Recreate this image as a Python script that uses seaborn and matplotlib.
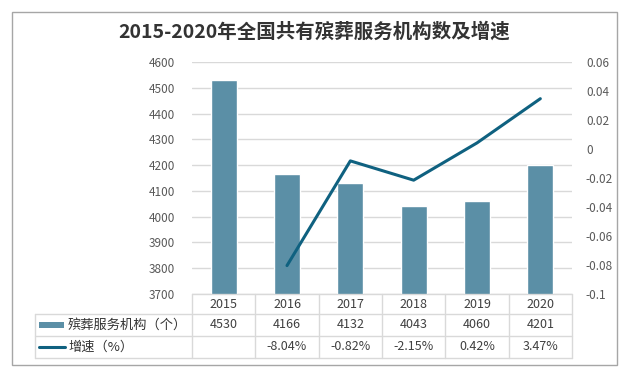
import numpy as np
import pandas as pd
import matplotlib
matplotlib.use("Agg")
import matplotlib.pyplot as plt
import seaborn as sns
from matplotlib.lines import Line2D
from matplotlib.patches import Rectangle

# dados
years = ["2015", "2016", "2017", "2018", "2019", "2020"]
counts = [4530, 4166, 4132, 4043, 4060, 4201]
growth = [np.nan, -0.0804, -0.0082, -0.0215, 0.0042, 0.0347]
growth_labels = ["", "-8.04%", "-0.82%", "-2.15%", "0.42%", "3.47%"]
bar_name = "殡葬服务机构（个）"
line_name = "增速（%）"
title = "2015-2020年全国共有殡葬服务机构数及增速"

bar_color = "#5B8FA6"
line_color = "#0F6180"
grid_color = "#D9D9D9"
tick_color = "#595959"

sns.set_theme(style="white")
plt.rcParams["font.family"] = ["Noto Sans CJK SC", "DejaVu Sans"]
num_font = ["Liberation Sans Narrow", "Noto Sans CJK SC", "DejaVu Sans"]

df = pd.DataFrame({"year": years, "count": counts, "growth": growth})
df["pos"] = np.arange(len(df))

W, H = 628, 372
fig = plt.figure(figsize=(W / 100, H / 100), dpi=100)

def fx(px):
    return px / W

def fy(py):
    return 1 - py / H

# moldura externa
fig.add_artist(Rectangle((fx(12), fy(365)), fx(605), 353 / H, transform=fig.transFigure,
                         fill=False, edgecolor="#A6A6A6", linewidth=1.0))

left, right, top, bottom = 192, 572, 62, 294
ax = fig.add_axes([fx(left), fy(bottom), fx(right - left), (bottom - top) / H])

sns.barplot(data=df, x="pos", y="count", color=bar_color, width=0.41, ax=ax,
            saturation=1, native_scale=True)
ax.set_ylim(3700, 4600)
ax.set_xlim(-0.5, len(years) - 0.5)
ax.set_yticks(np.arange(3700, 4601, 100))
ax.yaxis.grid(True, color=grid_color, linewidth=1)
ax.set_axisbelow(True)
ax.set_xticks([])
ax.set_xlabel("")
ax.set_ylabel("")
for s in ax.spines.values():
    s.set_visible(False)
ax.tick_params(axis="y", length=0, pad=12, labelsize=8.5, colors=tick_color)
for t in ax.get_yticklabels():
    t.set_family(num_font)

ax2 = ax.twinx()
sns.lineplot(data=df.dropna(), x="pos", y="growth", color=line_color, linewidth=2.2, ax=ax2)
rticks = np.round(np.arange(-0.1, 0.061, 0.02), 2)
ax2.set_ylim(-0.1, 0.06)
ax2.set_yticks(rticks)
ax2.set_yticklabels([f"{v:g}" if abs(v) > 1e-9 else "0" for v in rticks])
ax2.set_xlim(-0.5, len(years) - 0.5)
ax2.set_ylabel("")
ax2.set_xlabel("")
for s in ax2.spines.values():
    s.set_visible(False)
ax2.tick_params(axis="y", length=0, pad=10, labelsize=8.5, colors=tick_color)
for t in ax2.get_yticklabels():
    t.set_family(num_font)

# título
fig.text(0.5, fy(32), title, ha="center", va="center", fontsize=14,
         fontweight="bold", color="#333333")

# tabela de dados
rows = [294, 314, 336, 358]
tleft = 35
ncol = len(years)
colw = (right - left) / ncol
xs = [left + i * colw for i in range(ncol + 1)]
lc = grid_color

def hline(y, x0, x1):
    fig.add_artist(Line2D([fx(x0), fx(x1)], [fy(y), fy(y)], color=lc, linewidth=1))

def vline(x, y0, y1):
    fig.add_artist(Line2D([fx(x), fx(x)], [fy(y0), fy(y1)], color=lc, linewidth=1))

hline(rows[0], left, right)
for y in rows[1:]:
    hline(y, tleft, right)
vline(tleft, rows[1], rows[3])
for x in xs:
    vline(x, rows[0], rows[3])

txt_color = "#404040"
for i in range(ncol):
    cx = fx(xs[i] + colw / 2)
    fig.text(cx, fy((rows[0] + rows[1]) / 2), years[i], ha="center", va="center",
             fontsize=9, color=txt_color, family=num_font)
    fig.text(cx, fy((rows[1] + rows[2]) / 2), str(counts[i]), ha="center", va="center",
             fontsize=9, color=txt_color, family=num_font)
    fig.text(cx, fy((rows[2] + rows[3]) / 2), growth_labels[i], ha="center", va="center",
             fontsize=9, color=txt_color, family=num_font)

# legenda dentro da tabela
y1 = (rows[1] + rows[2]) / 2
fig.add_artist(Rectangle((fx(39), fy(y1 + 3)), fx(25), 6 / H, transform=fig.transFigure,
                         facecolor=bar_color, edgecolor="none"))
fig.text(fx(68), fy(y1), bar_name, ha="left", va="center", fontsize=9.5, color="#333333")
y2 = (rows[2] + rows[3]) / 2
fig.add_artist(Line2D([fx(39), fx(65)], [fy(y2), fy(y2)], color=line_color, linewidth=2.2))
fig.text(fx(68), fy(y2), line_name, ha="left", va="center", fontsize=9.5, color="#333333")

fig.savefig("out.png", dpi=100)
